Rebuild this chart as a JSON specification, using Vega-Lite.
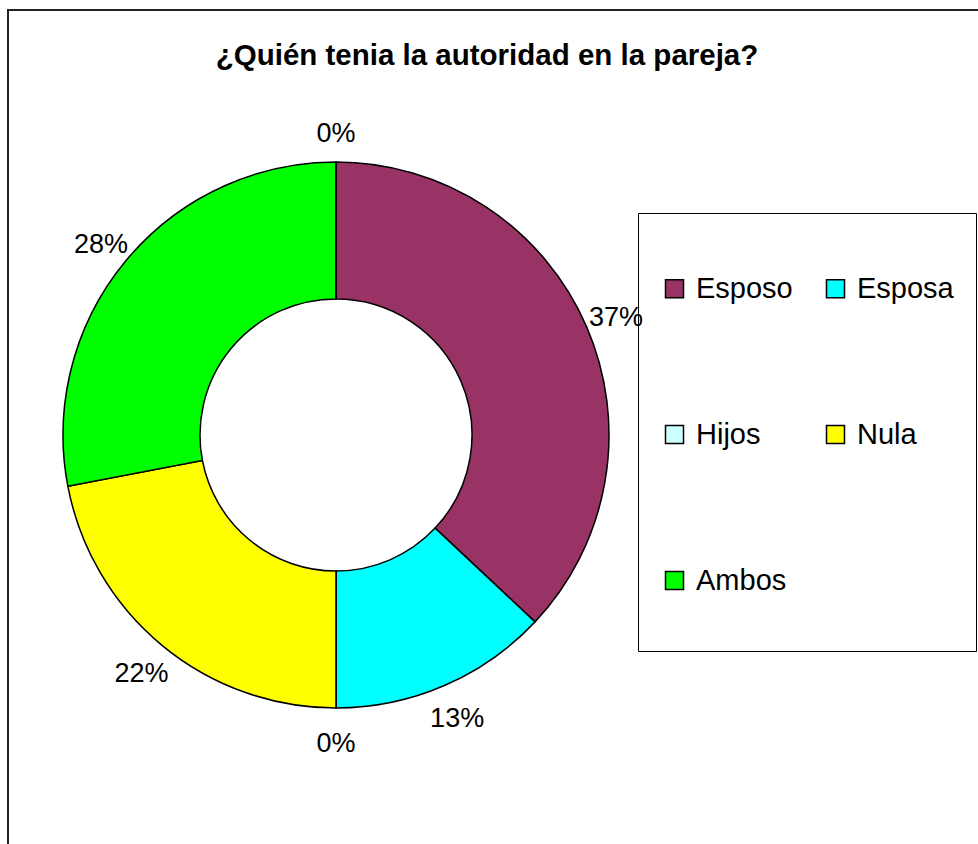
{
  "$schema": "https://vega.github.io/schema/vega-lite/v6.json",
  "width": 970,
  "height": 834,
  "autosize": {"type": "none"},
  "padding": {"left": 8, "top": 10, "right": 0, "bottom": 0},
  "background": "white",
  "title": {
    "text": "¿Quién tenia la autoridad en la pareja?",
    "font": "Liberation Sans",
    "fontSize": 29.5,
    "fontWeight": "bold",
    "color": "black",
    "anchor": "middle",
    "frame": "group",
    "baseline": "alphabetic",
    "offset": -84,
    "dx": -6
  },
  "data": {
    "values": [
      {"categoria": "Esposo", "porcentaje": 0.37, "orden": 1},
      {"categoria": "Esposa", "porcentaje": 0.13, "orden": 2},
      {"categoria": "Hijos", "porcentaje": 0.0, "orden": 3},
      {"categoria": "Nula", "porcentaje": 0.22, "orden": 4},
      {"categoria": "Ambos", "porcentaje": 0.28, "orden": 5},
      {"categoria": "Otro", "porcentaje": 0.0, "orden": 6}
    ]
  },
  "encoding": {
    "theta": {"field": "porcentaje", "type": "quantitative", "stack": true},
    "order": {"field": "orden", "type": "quantitative"},
    "x": {"value": 328},
    "y": {"value": 425}
  },
  "layer": [
    {
      "mark": {"type": "arc", "innerRadius": 136, "outerRadius": 273, "stroke": "black", "strokeWidth": 1.5, "opacity": 1},
      "encoding": {
        "color": {
          "field": "categoria",
          "type": "nominal",
          "scale": {
            "domain": ["Esposo", "Esposa", "Hijos", "Nula", "Ambos", "Otro"],
            "range": ["#993366", "#00FFFF", "#CCFFFF", "#FFFF00", "#00FF00", "#FFFFFF"]
          },
          "legend": {
            "orient": "none",
            "legendX": 630,
            "legendY": 203,
            "direction": "horizontal",
            "columns": 2,
            "values": ["Esposo", "Esposa", "Hijos", "Nula", "Ambos"],
            "title": " ",
            "titleFontSize": 10,
            "titlePadding": 29,
            "symbolType": "square",
            "symbolSize": 324,
            "symbolStrokeColor": "black",
            "symbolStrokeWidth": 1.5,
            "symbolOpacity": 1,
            "labelFont": "Liberation Sans",
            "labelFontSize": 29,
            "labelColor": "black",
            "labelOffset": 7,
            "columnPadding": 28,
            "rowPadding": 83,
            "padding": 22,
            "strokeColor": "black",
            "labelExpr": "[datum.label + '  ', '']"
          }
        }
      }
    },
    {
      "mark": {"type": "text", "radius": 305, "dy": 4, "font": "Liberation Sans", "fontSize": 27, "color": "black"},
      "encoding": {
        "text": {"field": "porcentaje", "type": "quantitative", "format": ".0%"}
      }
    }
  ],
  "config": {
    "view": {"stroke": "#222222", "strokeWidth": 2, "strokeDash": [970, 1804, 834, 10]},
    "style": {"guide-label": {"lineHeight": 33}}
  }
}
